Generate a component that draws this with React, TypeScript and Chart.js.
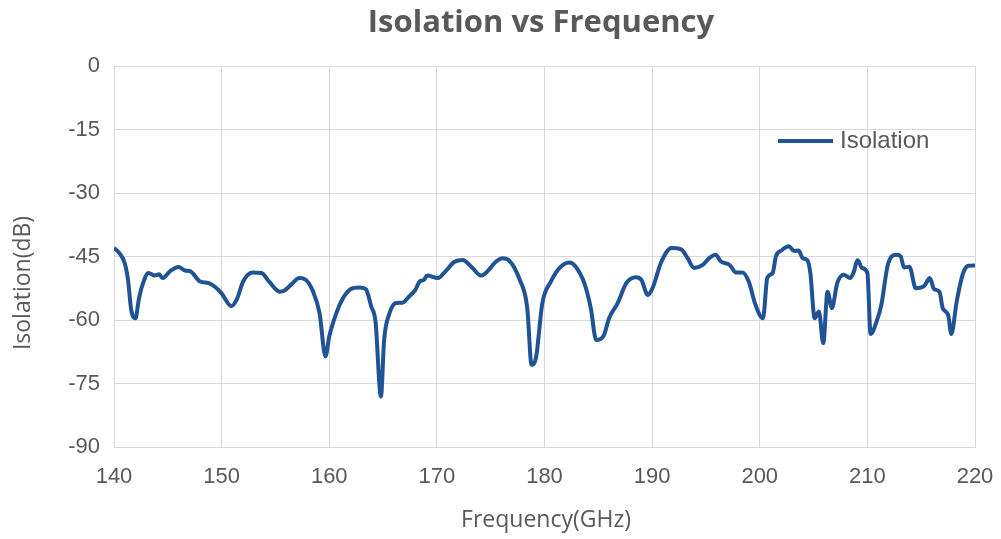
import React, { useEffect, useRef } from "react";
import { Chart, registerables } from "chart.js";

Chart.register(...registerables);

const frequencyGHz = [
  140.0, 140.5, 141.0, 141.3, 141.6, 142.0, 142.3, 142.7, 143.2, 143.8, 144.2, 144.5, 145.2, 146.0, 146.6, 147.1,
  148.0, 148.8, 149.4, 150.0, 150.9, 151.4, 152.0, 152.9, 153.7, 154.4, 155.4, 155.8, 156.6, 157.2, 157.7, 158.5,
  159.1, 159.65, 160.0, 160.6, 161.2, 162.0, 162.8, 163.4, 163.9, 164.3, 164.8, 165.1, 165.6, 166.2, 166.8, 167.4,
  168.0, 168.4, 168.8, 169.1, 170.1, 170.8, 171.6, 172.4, 173.2, 174.1, 174.7, 175.5, 176.1, 176.7, 177.7, 178.4,
  178.8, 179.2, 179.8, 180.6, 181.4, 182.3, 182.9, 183.7, 184.3, 184.8, 185.5, 186.0, 186.8, 187.6, 188.5, 189.0,
  189.6, 190.1, 190.8, 191.8, 192.7, 193.3, 193.9, 194.7, 195.3, 195.9, 196.4, 197.2, 197.8, 198.4, 199.0, 199.6,
  200.3, 200.7, 201.2, 201.5, 202.0, 202.7, 203.2, 203.6, 204.0, 204.4, 204.7, 205.1, 205.5, 205.9, 206.3, 206.7,
  207.2, 207.8, 208.4, 208.7, 209.1, 209.5, 210.0, 210.3, 210.9, 211.3, 211.9, 212.7, 213.1, 213.4, 213.9, 214.5,
  215.3, 215.8, 216.2, 216.7, 217.0, 217.5, 217.8, 218.3, 218.9, 219.4, 220.0,
];

const isolationDb = [
  -43.0, -44.2, -46.6, -50.5, -57.6, -59.6, -55.2, -51.3, -48.9, -49.5, -49.2, -50.1, -48.5, -47.5, -48.3, -48.5,
  -50.9, -51.3, -52.2, -53.7, -56.7, -55.2, -50.9, -48.8, -48.9, -50.9, -53.3, -53.1, -51.3, -50.1, -50.3, -53.3,
  -58.4, -68.6, -63.9, -58.8, -55.2, -52.7, -52.3, -52.7, -56.8, -60.4, -78.1, -64.7, -58.4, -56.0, -55.9, -54.5,
  -52.9, -50.9, -50.5, -49.5, -50.1, -48.5, -46.3, -45.8, -47.4, -49.5, -48.5, -46.2, -45.4, -45.9, -50.5, -57.2,
  -70.6, -69.0, -56.0, -50.9, -47.7, -46.4, -47.4, -51.3, -57.2, -64.7, -63.7, -59.6, -56.0, -51.3, -49.9, -50.5,
  -54.1, -52.1, -46.6, -43.0, -43.3, -45.4, -47.7, -47.0, -45.4, -44.6, -46.2, -47.0, -48.8, -48.8, -51.1, -56.4,
  -59.6, -50.1, -48.9, -45.0, -43.6, -42.6, -43.7, -43.6, -45.4, -45.8, -48.9, -59.6, -58.0, -65.5, -53.3, -57.2,
  -51.3, -49.3, -50.1, -48.9, -45.9, -47.7, -48.9, -63.3, -60.0, -56.4, -47.0, -44.6, -45.0, -47.6, -47.4, -52.5,
  -51.9, -50.1, -52.7, -53.3, -57.2, -58.8, -63.3, -55.6, -48.9, -47.2, -47.1,
];

const seriesName = "Isolation";
const chartTitle = "Isolation vs Frequency";
const xAxisTitle = "Frequency(GHz)";
const yAxisTitle = "Isolation(dB)";
const xTicks = [140, 150, 160, 170, 180, 190, 200, 210, 220];
const yTicks = [0, -15, -30, -45, -60, -75, -90];

const LINE_COLOR = "#1F5396";
const TEXT_COLOR = "#595959";
const GRID_COLOR = "#d9d9d9";
const TICK_FONT = "'Liberation Sans', Arial, sans-serif";
const TITLE_FONT = "'Open Sans', sans-serif";

export default function App() {
  const ref = useRef<HTMLCanvasElement | null>(null);

  useEffect(() => {
    document.body.style.margin = "0";
    const canvas = ref.current;
    if (!canvas) return;

    const overlay = {
      id: "overlay",
      afterDraw(chart: any) {
        const { ctx } = chart;
        ctx.save();
        ctx.fillStyle = TEXT_COLOR;
        ctx.textAlign = "center";
        ctx.textBaseline = "middle";
        // chart title
        ctx.font = `bold 31px ${TITLE_FONT}`;
        ctx.fillText(chartTitle, 541, 23);
        // x axis title
        ctx.font = `23px ${TITLE_FONT}`;
        ctx.fillText(xAxisTitle, 546, 520);
        // y axis title
        ctx.save();
        ctx.translate(23, 283);
        ctx.rotate(-Math.PI / 2);
        ctx.fillText(yAxisTitle, 0, 0);
        ctx.restore();
        // legend
        ctx.strokeStyle = LINE_COLOR;
        ctx.lineWidth = 4;
        ctx.beginPath();
        ctx.moveTo(778, 141);
        ctx.lineTo(833, 141);
        ctx.stroke();
        ctx.font = `24px ${TICK_FONT}`;
        ctx.textAlign = "left";
        ctx.fillText(seriesName, 840, 141);
        ctx.restore();
      },
    };

    const chart = new Chart(canvas, {
      type: "line",
      data: {
        datasets: [
          {
            label: seriesName,
            data: frequencyGHz.map((f, i) => ({ x: f, y: isolationDb[i] })),
            borderColor: LINE_COLOR,
            backgroundColor: LINE_COLOR,
            borderWidth: 4,
            pointRadius: 0,
            tension: 0.35,
            cubicInterpolationMode: "monotone",
            fill: false,
          },
        ],
      },
      options: {
        animation: false,
        responsive: false,
        maintainAspectRatio: false,
        layout: { padding: { top: 66, right: 26, left: 0, bottom: 0 } },
        plugins: {
          legend: { display: false },
          title: { display: false },
          tooltip: { enabled: false },
        },
        scales: {
          x: {
            type: "linear",
            min: 140,
            max: 220,
            afterBuildTicks(scale: any) {
              scale.ticks = xTicks.map((v) => ({ value: v }));
            },
            afterFit(scale: any) {
              scale.height = 92;
              scale.paddingLeft = 0;
              scale.paddingRight = 0;
            },
            grid: { color: GRID_COLOR, lineWidth: 1, drawTicks: false },
            border: { color: GRID_COLOR, width: 1 },
            ticks: {
              color: TEXT_COLOR,
              font: { family: TICK_FONT, size: 22 },
              padding: 17,
              maxRotation: 0,
            },
          },
          y: {
            type: "linear",
            min: -90,
            max: 0,
            afterBuildTicks(scale: any) {
              scale.ticks = yTicks.map((v) => ({ value: v }));
            },
            afterFit(scale: any) {
              scale.width = 114;
              scale.paddingTop = 0;
              scale.paddingBottom = 0;
            },
            grid: { color: GRID_COLOR, lineWidth: 1, drawTicks: false },
            border: { color: GRID_COLOR, width: 1 },
            ticks: {
              color: TEXT_COLOR,
              font: { family: TICK_FONT, size: 22 },
              padding: 14,
            },
          },
        },
      },
      plugins: [overlay],
    });

    return () => chart.destroy();
  }, []);

  return (
    <div style={{ width: 1001, height: 539 }}>
      <canvas ref={ref} width={1001} height={539} style={{ display: "block" }} />
    </div>
  );
}
